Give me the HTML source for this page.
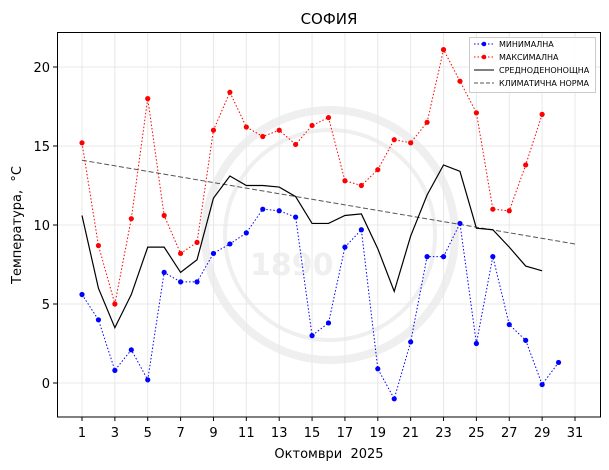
<!DOCTYPE html>
<html><head><meta charset="utf-8"><style>
body{margin:0;background:#fff}
svg{display:block;font-family:"DejaVu Sans","Liberation Sans",sans-serif}
</style></head><body>
<svg id="s" width="609" height="470" xmlns="http://www.w3.org/2000/svg">
<rect width="609" height="470" fill="#fff"/>
<g id="wm" fill="none" stroke="#efefef" stroke-width="8">
<circle cx="330" cy="235" r="125"/>
<circle cx="330" cy="235" r="105" stroke-width="4"/>
</g>
<text x="250" y="275" font-size="30" font-weight="bold" fill="#efefef">1890</text>
<g id="grid" stroke="#e8e8e8" stroke-width="1"></g>
<g id="series"></g>
<rect x="57.5" y="32.5" width="543" height="384.5" fill="none" stroke="#000" stroke-width="1"/>
<g id="ticks" font-size="13" fill="#000"></g>
<text x="329" y="24" font-size="15" text-anchor="middle">СОФИЯ</text>
<text x="329" y="458" font-size="13" text-anchor="middle">Октомври&#160; 2025</text>
<text transform="translate(21,225) rotate(-90)" font-size="13" text-anchor="middle">Температура,&#160; °C</text>
<g font-size="8">
<rect x="469.5" y="37.5" width="126" height="55" fill="#fff" fill-opacity="0.85" stroke="#ccc"/>
<line x1="474" y1="44" x2="494" y2="44" stroke="#00f" stroke-dasharray="1.5,2"/><circle cx="484" cy="44" r="2.3" fill="#00f"/>
<text x="499" y="47">МИНИМАЛНА</text>
<line x1="474" y1="57" x2="494" y2="57" stroke="#f00" stroke-dasharray="1.5,2"/><circle cx="484" cy="57" r="2.3" fill="#f00"/>
<text x="499" y="60">МАКСИМАЛНА</text>
<line x1="474" y1="70" x2="494" y2="70" stroke="#000"/>
<text x="499" y="73">СРЕДНОДЕНОНОЩНА</text>
<line x1="474" y1="83" x2="494" y2="83" stroke="#555" stroke-dasharray="4,2"/>
<text x="499" y="86">КЛИМАТИЧНА НОРМА</text>
</g>
</svg>
<script>
const X=d=>82+(d-1)*16.433, Y=v=>383-v*15.8;
const ns="http://www.w3.org/2000/svg";
function el(p,t,a,txt){const e=document.createElementNS(ns,t);for(const k in a)e.setAttribute(k,a[k]);if(txt!==undefined)e.textContent=txt;document.getElementById(p).appendChild(e);return e;}
for(let d=1;d<=31;d+=2){el("grid","line",{x1:X(d),x2:X(d),y1:33,y2:417});el("ticks","line",{x1:X(d),x2:X(d),y1:417,y2:421,stroke:"#000"});el("ticks","text",{x:X(d),y:437,"text-anchor":"middle"},d);}
for(let v=0;v<=20;v+=5){el("grid","line",{x1:58,x2:600,y1:Y(v),y2:Y(v)});el("ticks","line",{x1:53,x2:57,y1:Y(v),y2:Y(v),stroke:"#000"});el("ticks","text",{x:50,y:Y(v)+5,"text-anchor":"end"},v);}
const mn=[5.6,4.0,0.8,2.1,0.2,7.0,6.4,6.4,8.2,8.8,9.5,11.0,10.9,10.5,3.0,3.8,8.6,9.7,0.9,-1.0,2.6,8.0,8.0,10.1,2.5,8.0,3.7,2.7,-0.1,1.3];
const mx=[15.2,8.7,5.0,10.4,18.0,10.6,8.2,8.9,16.0,18.4,16.2,15.6,16.0,15.1,16.3,16.8,12.8,12.5,13.5,15.4,15.2,16.5,21.1,19.1,17.1,11.0,10.9,13.8,17.0];
const me=[10.6,6.0,3.5,5.6,8.6,8.6,7.0,7.8,11.7,13.1,12.5,12.5,12.4,11.8,10.1,10.1,10.6,10.7,8.5,5.8,9.3,11.9,13.8,13.4,9.8,9.7,8.6,7.4,7.1];
const pts=a=>a.map((v,i)=>X(i+1)+","+Y(v)).join(" ");
let cl=[];for(let d=1;d<=31;d++)cl.push(X(d)+","+Y(14.1-(d-1)*5.3/30));
el("series","polyline",{points:cl.join(" "),fill:"none",stroke:"#555","stroke-dasharray":"5,2.5","stroke-width":1});
el("series","polyline",{points:pts(me),fill:"none",stroke:"#000","stroke-width":1.2});
el("series","polyline",{points:pts(mn),fill:"none",stroke:"#00f","stroke-dasharray":"1.5,2","stroke-width":1});
el("series","polyline",{points:pts(mx),fill:"none",stroke:"#f00","stroke-dasharray":"1.5,2","stroke-width":1});
mn.forEach((v,i)=>el("series","circle",{cx:X(i+1),cy:Y(v),r:2.6,fill:"#00f"}));
mx.forEach((v,i)=>el("series","circle",{cx:X(i+1),cy:Y(v),r:2.6,fill:"#f00"}));
</script>
</body></html>
